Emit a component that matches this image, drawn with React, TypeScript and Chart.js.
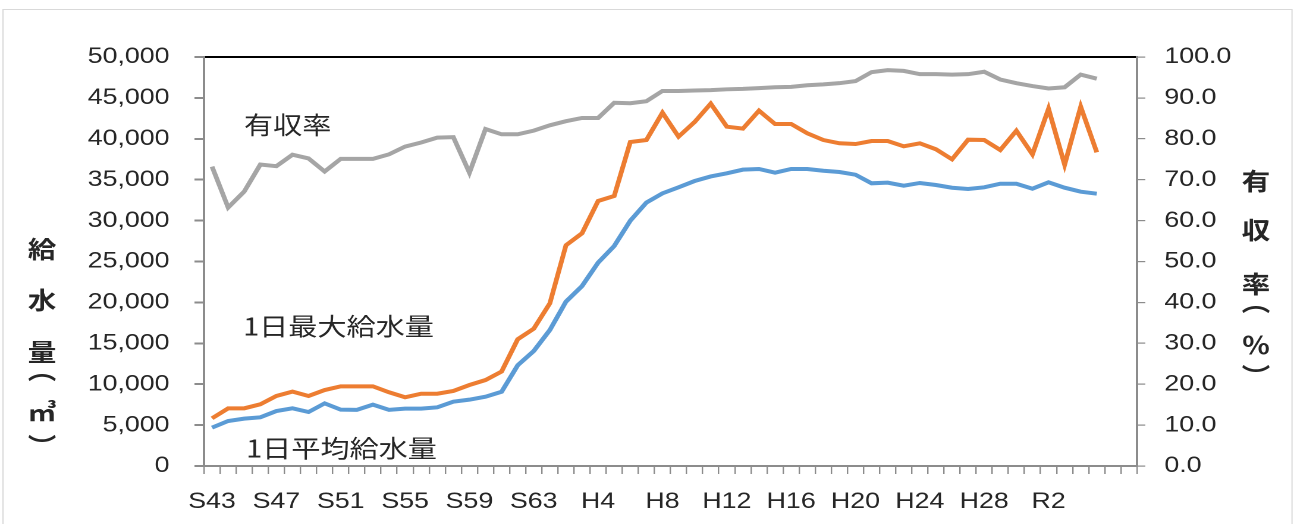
import React, { useEffect, useRef } from 'react';
import { Chart, registerables } from 'chart.js';

Chart.register(...registerables);

// ---- data ----
const yearLabels = [
  'S43','S44','S45','S46','S47','S48','S49','S50','S51','S52','S53','S54','S55','S56','S57','S58','S59','S60','S61','S62','S63',
  'H1','H2','H3','H4','H5','H6','H7','H8','H9','H10','H11','H12','H13','H14','H15','H16','H17','H18','H19','H20',
  'H21','H22','H23','H24','H25','H26','H27','H28','H29','H30',
  'R1','R2','R3','R4','R5'
];
const emptyCategories = ['', ''];

const avgSupply = [
  4690, 5500, 5790, 5950, 6720, 7050, 6600, 7660, 6890, 6860,
  7500, 6860, 7010, 7010, 7170, 7860, 8110, 8470, 9070, 12310,
  14060, 16630, 20090, 22000, 24860, 26900, 29990, 32200, 33330, 34070,
  34840, 35400, 35780, 36230, 36310, 35860, 36310, 36310, 36100, 35940,
  35610, 34560, 34640, 34270, 34600, 34350, 34020, 33860, 34070, 34510,
  34510, 33900, 34680, 34020, 33530, 33290
];

const maxSupply = [
  5830, 7050, 7050, 7540, 8560, 9090, 8560, 9290, 9740, 9740,
  9740, 9010, 8400, 8840, 8840, 9170, 9900, 10510, 11550, 15490,
  16790, 19890, 26980, 28450, 32400, 33010, 39610, 39850, 43190, 40260,
  42050, 44300, 41480, 41240, 43440, 41810, 41810, 40670, 39850, 39450,
  39360, 39730, 39730, 39080, 39450, 38720, 37490, 39890, 39850, 38630,
  40990, 38100, 43680, 36830, 43930, 38350
];

const collectionRate = [
  73.2, 63.2, 67.1, 73.7, 73.3, 76.1, 75.2, 72.0, 75.1, 75.1,
  75.1, 76.2, 78.1, 79.1, 80.3, 80.4, 71.7, 82.4, 81.1, 81.1,
  82.0, 83.3, 84.3, 85.1, 85.1, 88.8, 88.7, 89.2, 91.7, 91.7,
  91.8, 91.9, 92.1, 92.2, 92.4, 92.6, 92.7, 93.1, 93.3, 93.6,
  94.1, 96.3, 96.8, 96.6, 95.8, 95.8, 95.7, 95.8, 96.4, 94.5,
  93.6, 92.9, 92.3, 92.6, 95.7, 94.7
];

const leftTitle = ['給', '水', '量', '︵', '㎥', '︶'];
const rightTitle = ['有', '収', '率', '︵', '%', '︶'];

// ---- layout (reference is horizontally stretched) ----
const W = 1294;
const H = 524;
const CW = 1088;
const S = W / CW;
const X = (x: number) => x / S;

const TICK_FONT = { family: "'Liberation Sans', Arial, sans-serif", size: 22.5 };
const TICK_COLOR = '#262626';
const AXIS_COLOR = '#8c8c8c';
const CJK = "'Noto Sans CJK JP', sans-serif";

const decorPlugin = {
  id: 'decor',
  beforeDraw(chart: any) {
    const ctx = chart.ctx;
    ctx.save();
    ctx.fillStyle = '#ffffff';
    ctx.fillRect(0, 0, chart.width, chart.height);
    ctx.strokeStyle = '#d9d9d9';
    ctx.lineWidth = 1;
    ctx.strokeRect(X(3), 9.5, X(1289), 560);
    ctx.restore();
  },
  afterDraw(chart: any) {
    const ctx = chart.ctx;
    ctx.save();
    ctx.fillStyle = '#262626';
    ctx.textBaseline = 'middle';
    ctx.textAlign = 'left';
    ctx.font = `400 24.5px ${CJK}`;
    ctx.fillText('有収率', X(244), 124.5);
    ctx.fillText('1日最大給水量', X(243), 326);
    ctx.fillText('1日平均給水量', X(246), 448);

    ctx.textAlign = 'center';
    ctx.font = `700 24px ${CJK}`;
    const ly = [249, 300, 352, 370, 412, 446];
    leftTitle.forEach((c, i) => ctx.fillText(c, X(42), ly[i]));
    const ry = [181, 230, 284, 302, 345, 376];
    rightTitle.forEach((c, i) => ctx.fillText(c, X(1256), ry[i]));
    ctx.restore();
  },
};

export default function App() {
  const ref = useRef<HTMLCanvasElement | null>(null);

  useEffect(() => {
    if (!ref.current) return;
    const categories = [...yearLabels, ...emptyCategories];
    const chart = new Chart(ref.current, {
      type: 'line',
      data: {
        labels: categories,
        datasets: [
          {
            label: '有収率',
            data: collectionRate,
            yAxisID: 'y1',
            borderColor: '#a5a5a5',
            borderWidth: 4,
            pointRadius: 0,
            tension: 0,
          },
          {
            label: '1日最大給水量',
            data: maxSupply,
            yAxisID: 'y',
            borderColor: '#ed7d31',
            borderWidth: 4,
            pointRadius: 0,
            tension: 0,
          },
          {
            label: '1日平均給水量',
            data: avgSupply,
            yAxisID: 'y',
            borderColor: '#5b9bd5',
            borderWidth: 4,
            pointRadius: 0,
            tension: 0,
          },
        ],
      },
      options: {
        responsive: false,
        devicePixelRatio: 2,
        animation: false,
        layout: { padding: { top: 57, left: 0, right: 0, bottom: 0 } },
        plugins: { legend: { display: false }, tooltip: { enabled: false } },
        scales: {
          x: {
            type: 'category',
            offset: true,
            grid: {
              display: true,
              drawOnChartArea: false,
              offset: true,
              tickLength: 8,
              color: AXIS_COLOR,
              lineWidth: 1.2,
            },
            border: { display: true, color: AXIS_COLOR, width: 2 },
            ticks: {
              autoSkip: false,
              maxRotation: 0,
              minRotation: 0,
              padding: 14.5,
              color: TICK_COLOR,
              font: TICK_FONT,
              callback: (_v: any, i: number) => (i % 4 === 0 ? categories[i] : ''),
            },
            afterFit: (s: any) => { s.height = H - 466; },
          },
          y: {
            position: 'left',
            min: 0,
            max: 50000,
            ticks: {
              stepSize: 5000,
              padding: 21,
              color: TICK_COLOR,
              font: TICK_FONT,
              callback: (v: any) => Number(v).toLocaleString('en-US'),
            },
            grid: {
              drawOnChartArea: true,
              drawTicks: true,
              tickLength: 8,
              tickColor: AXIS_COLOR,
              color: (c: any) => (c.tick && c.tick.value === 50000 ? '#000000' : 'rgba(0,0,0,0)'),
              lineWidth: 2,
            },
            border: { display: true, color: AXIS_COLOR, width: 2 },
            afterFit: (s: any) => { s.width = X(204); },
          },
          y1: {
            position: 'right',
            min: 0,
            max: 100,
            ticks: {
              stepSize: 10,
              padding: 16,
              color: TICK_COLOR,
              font: TICK_FONT,
              callback: (v: any) => Number(v).toFixed(1),
            },
            grid: {
              drawOnChartArea: false,
              drawTicks: true,
              tickLength: 7,
              tickColor: AXIS_COLOR,
              color: AXIS_COLOR,
              lineWidth: 1.2,
            },
            border: { display: true, color: AXIS_COLOR, width: 2 },
            afterFit: (s: any) => { s.width = CW - X(1137); },
          },
        },
      },
      plugins: [decorPlugin],
    } as any);
    return () => chart.destroy();
  }, []);

  return (
    <div
      style={{
        position: 'fixed',
        left: 0,
        top: 0,
        width: W,
        height: H,
        overflow: 'hidden',
        background: '#ffffff',
      }}
    >
      <canvas
        ref={ref}
        width={CW}
        height={H}
        style={{ display: 'block', transform: `scaleX(${S})`, transformOrigin: '0 0' }}
      />
    </div>
  );
}
